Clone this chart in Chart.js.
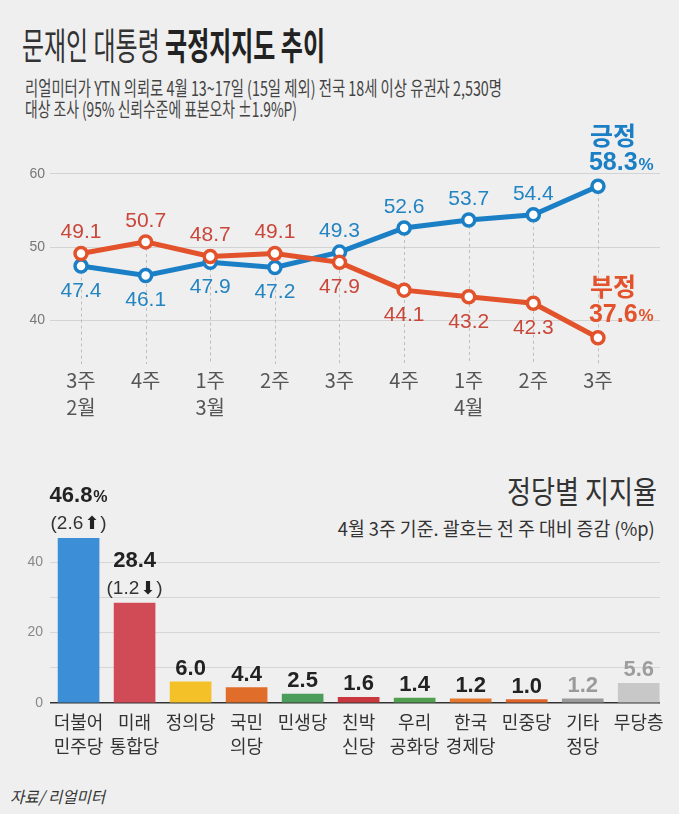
<!DOCTYPE html>
<html><head><meta charset="utf-8">
<script src="https://cdn.jsdelivr.net/npm/chart.js@4"></script>
<style>
html,body{margin:0;padding:0;background:#efefef;}
body{width:679px;height:814px;position:relative;overflow:hidden;font-family:"Noto Sans CJK KR",sans-serif;color:#333;}
.t{position:absolute;white-space:nowrap;transform-origin:0 0;}
.r{transform-origin:100% 0;}
canvas{position:absolute;left:0;}
</style></head>
<body>
<div class="t" data-w="303" style="left:22px;top:23px;font-size:37px;line-height:42px;color:#333;">문재인 대통령 <b style="font-weight:700;color:#222">국정지지도 추이</b></div>
<div class="t" data-w="477" style="left:25px;top:76px;font-size:20px;line-height:24px;color:#444;">리얼미터가 YTN 의뢰로 4월 13~17일 (15일 제외) 전국 18세 이상 유권자 2,530명</div>
<div class="t" data-w="272" style="left:25px;top:97px;font-size:20px;line-height:24px;color:#444;">대상 조사 (95% 신뢰수준에 표본오차 ±1.9%P)</div>
<div class="t r" data-w="150" style="right:22px;top:472px;font-size:31px;line-height:36px;color:#333;">정당별 지지율</div>
<div class="t r" data-w="317" style="right:24px;top:516px;font-size:19px;line-height:23px;color:#333;">4월 3주 기준. 괄호는 전 주 대비 증감 (%p)</div>
<div class="t" data-w="95" style="left:10px;top:786px;font-size:16px;line-height:20px;color:#333;font-style:italic;">자료/ 리얼미터</div>

<canvas id="line" width="679" height="320" style="top:110px"></canvas>
<canvas id="bar" width="679" height="320" style="top:470px"></canvas>

<script>
// ---------- DATA ----------
const weekLabels = [["3주","2월"],["4주"],["1주","3월"],["2주"],["3주"],["4주"],["1주","4월"],["2주"],["3주"]];
const positive = [47.4, 46.1, 47.9, 47.2, 49.3, 52.6, 53.7, 54.4, 58.3];
const negative = [49.1, 50.7, 48.7, 49.1, 47.9, 44.1, 43.2, 42.3, 37.6];
const lineTicks = [40, 50, 60];

const parties = [["더불어","민주당"],["미래","통합당"],["정의당"],["국민","의당"],["민생당"],["친박","신당"],["우리","공화당"],["한국","경제당"],["민중당"],["기타","정당"],["무당층"]];
const support = [46.8, 28.4, 6.0, 4.4, 2.5, 1.6, 1.4, 1.2, 1.0, 1.2, 5.6];
const weeklyChange = [2.6, -1.2, null, null, null, null, null, null, null, null, null];
const barTicks = [0, 10, 20, 30, 40];

// ---------- STYLES ----------
const BLUE = '#1b7fc6', RED = '#e2522b';
const BLUE_TXT = '#2384c2', RED_TXT = '#c9473a';
const partyColors = ['#3c8fd6','#d14b57','#f5c128','#e06e2a','#4c9c5c','#c9383f','#50a050','#e5782c','#e0642a','#9a9a9a','#c8c8c8'];
const labelColors = ['#222','#222','#222','#222','#222','#222','#222','#222','#222','#9a9a9a','#9d9d9d'];
const NUM = '"Liberation Sans", "Noto Sans CJK KR", sans-serif';
const KR = '"Noto Sans CJK KR", sans-serif';

// fit headline widths
document.querySelectorAll('.t[data-w]').forEach(el => {
  const w = el.getBoundingClientRect().width;
  el.style.transform = 'scaleX(' + (parseFloat(el.dataset.w) / w) + ')';
});

// ---------- LINE CHART ----------
const guides = {
  id: 'guides',
  beforeDatasetsDraw(chart) {
    const {ctx, chartArea} = chart;
    const a = chart.getDatasetMeta(0).data, b = chart.getDatasetMeta(1).data;
    ctx.save();
    ctx.strokeStyle = '#bdbdbd'; ctx.lineWidth = 1; ctx.setLineDash([3, 3]);
    a.forEach((p, i) => {
      const x = Math.round(p.x) + 0.5;
      ctx.beginPath(); ctx.moveTo(x, Math.min(p.y, b[i].y)); ctx.lineTo(x, chartArea.bottom); ctx.stroke();
    });
    ctx.restore();
  }
};

const lineLabels = {
  id: 'lineLabels',
  afterDatasetsDraw(chart) {
    const ctx = chart.ctx;
    const pp = chart.getDatasetMeta(1).data; // positive
    const nn = chart.getDatasetMeta(0).data; // negative
    ctx.save();
    ctx.textAlign = 'center'; ctx.textBaseline = 'middle';
    ctx.font = '21px ' + NUM;
    const last = positive.length - 1;
    for (let i = 0; i < last; i++) {
      const posUp = positive[i] > negative[i];
      ctx.fillStyle = BLUE_TXT;
      ctx.fillText(positive[i].toFixed(1), pp[i].x, posUp ? pp[i].y - 21 : pp[i].y + 25);
      ctx.fillStyle = RED_TXT;
      ctx.fillText(negative[i].toFixed(1), nn[i].x, posUp ? nn[i].y + 25 : nn[i].y - 21);
    }
    ctx.textAlign = 'left';
    const drawFinal = (name, val, p, color) => {
      ctx.fillStyle = color;
      const x = p.x - 9;
      ctx.font = 'bold 25px ' + KR;
      ctx.fillText(name, x + 1, p.y - 51);
      ctx.font = 'bold 25px ' + NUM;
      const s = val.toFixed(1);
      ctx.fillText(s, x, p.y - 23);
      const w = ctx.measureText(s).width;
      ctx.font = 'bold 17px ' + NUM;
      ctx.fillText('%', x + w + 1, p.y - 21);
    };
    drawFinal('긍정', positive[last], pp[last], BLUE);
    drawFinal('부정', negative[last], nn[last], RED);
    ctx.restore();
  }
};

new Chart(document.getElementById('line'), {
  type: 'line',
  data: {
    datasets: [
      { label: '부정', data: negative.map((v, i) => ({x: i, y: v})), borderColor: RED, backgroundColor: '#fff',
        borderWidth: 5, pointRadius: 6, pointBorderWidth: 3.5, pointBackgroundColor: '#fff', pointBorderColor: RED, order: 0 },
      { label: '긍정', data: positive.map((v, i) => ({x: i, y: v})), borderColor: BLUE, backgroundColor: '#fff',
        borderWidth: 5, pointRadius: 6, pointBorderWidth: 3.5, pointBackgroundColor: '#fff', pointBorderColor: BLUE, order: 1 }
    ]
  },
  options: {
    responsive: false, animation: false, devicePixelRatio: 1,
    layout: { padding: { top: 20, right: 19, left: 0, bottom: 0 } },
    plugins: { legend: { display: false }, tooltip: { enabled: false } },
    scales: {
      x: {
        type: 'linear', min: -0.48, max: 8.96,
        afterBuildTicks: s => { s.ticks = weekLabels.map((_, i) => ({ value: i })); },
        afterFit: s => { s.height = 66; },
        grid: { display: false, drawTicks: false }, border: { display: false },
        ticks: { callback: v => weekLabels[v], color: '#555', padding: 3, maxRotation: 0, autoSkip: false,
                 font: { family: KR, size: 20, lineHeight: 1.35 } }
      },
      y: {
        min: 34, max: 66,
        afterBuildTicks: s => { s.ticks = lineTicks.map(v => ({ value: v })); },
        afterFit: s => { s.width = 50; },
        grid: { color: '#d3d3d3', drawTicks: false, lineWidth: 1 }, border: { display: false },
        ticks: { color: '#777', padding: 5, font: { family: NUM, size: 14 } }
      }
    }
  },
  plugins: [guides, lineLabels]
});

// ---------- BAR CHART ----------
const barLabels = {
  id: 'barLabels',
  afterDatasetsDraw(chart) {
    const ctx = chart.ctx;
    const bars = chart.getDatasetMeta(0).data;
    ctx.save();
    ctx.textBaseline = 'middle';
    bars.forEach((b, i) => {
      const s = support[i].toFixed(1);
      const pct = i === 0;
      const ch = weeklyChange[i];
      let yv = b.y - 13;
      if (ch !== null) {
        const txt = '(' + Math.abs(ch).toFixed(1);
        const arrow = ch > 0 ? '⬆' : '⬇';
        ctx.font = '19px ' + NUM;
        const w1 = ctx.measureText(txt).width;
        ctx.font = '18px "DejaVu Sans", sans-serif';
        const w2 = ctx.measureText(arrow).width;
        ctx.font = '19px ' + NUM;
        const w3 = ctx.measureText(')').width;
        let x = b.x - (w1 + w2 + w3 + 2) / 2;
        const yc = b.y - 14;
        ctx.fillStyle = '#333'; ctx.textAlign = 'left';
        ctx.fillText(txt, x, yc); x += w1 + 1;
        ctx.font = '18px "DejaVu Sans", sans-serif'; ctx.fillStyle = '#222';
        ctx.fillText(arrow, x, yc); x += w2 + 1;
        ctx.font = '19px ' + NUM; ctx.fillStyle = '#333';
        ctx.fillText(')', x, yc);
        yv = b.y - 42;
      }
      ctx.fillStyle = labelColors[i];
      ctx.font = 'bold 22px ' + NUM;
      const w = ctx.measureText(s).width;
      if (pct) {
        ctx.font = 'bold 16px ' + NUM;
        const wp = ctx.measureText('%').width;
        const x0 = b.x - (w + wp + 1) / 2;
        ctx.textAlign = 'left';
        ctx.font = 'bold 22px ' + NUM; ctx.fillText(s, x0, yv);
        ctx.font = 'bold 16px ' + NUM; ctx.fillText('%', x0 + w + 1, yv + 1);
      } else {
        ctx.textAlign = 'center';
        ctx.fillText(s, b.x, yv);
      }
    });
    ctx.restore();
  }
};

new Chart(document.getElementById('bar'), {
  type: 'bar',
  data: {
    datasets: [{
      data: support.map((v, i) => ({x: i, y: v})),
      backgroundColor: partyColors, borderWidth: 0, barThickness: 41
    }]
  },
  options: {
    responsive: false, animation: false, devicePixelRatio: 1,
    layout: { padding: { top: 64, right: 19, left: 0, bottom: 0 } },
    plugins: { legend: { display: false }, tooltip: { enabled: false } },
    scales: {
      x: {
        type: 'linear', min: -0.51, max: 10.38, offset: false,
        afterBuildTicks: s => { s.ticks = parties.map((_, i) => ({ value: i })); },
        afterFit: s => { s.height = 87; },
        grid: { display: false, drawTicks: false }, border: { display: false },
        ticks: { callback: v => parties[v], color: '#333', padding: 7, maxRotation: 0, autoSkip: false,
                 font: { family: KR, size: 18, lineHeight: 1.33 } }
      },
      y: {
        min: 0, max: 48,
        afterBuildTicks: s => { s.ticks = barTicks.map(v => ({ value: v })); },
        afterFit: s => { s.width = 50; },
        grid: { color: c => c.tick && c.tick.value === 0 ? '#333' : '#d6d6d6',
                lineWidth: c => c.tick && c.tick.value === 0 ? 1.5 : 1, drawTicks: false },
        border: { display: false },
        ticks: { color: '#888', padding: 7, font: { family: NUM, size: 14 },
                 callback: v => (v % 20 === 0 ? v : '') }
      }
    }
  },
  plugins: [barLabels]
});
</script>
</body></html>
